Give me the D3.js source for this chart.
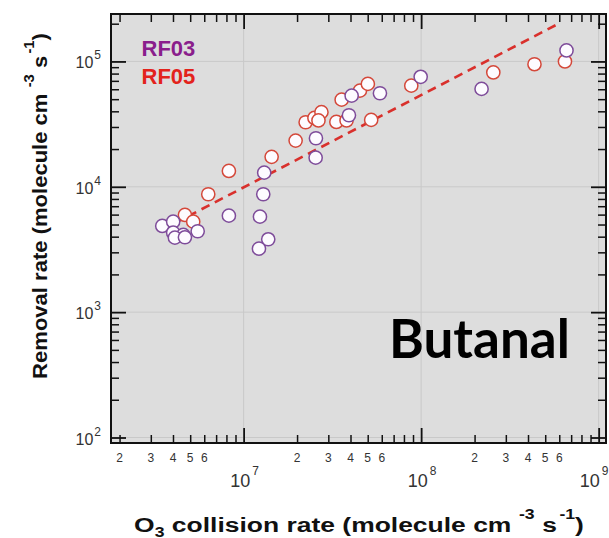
<!DOCTYPE html>
<html>
<head>
<meta charset="utf-8">
<script src="https://cdn.jsdelivr.net/npm/d3@7"></script>
<style>
  html, body { margin: 0; padding: 0; background: #ffffff; }
  svg { display: block; }
</style>
</head>
<body>
<svg id="chart" width="609" height="538"></svg>
<script>
// ---------------- data ----------------
const xDomain = [1.79e6, 1.10e9];
const yDomain = [90.4, 2.39e5];

const rf03X = [3.48e6, 4.01e6, 4.01e6, 4.57e6, 4.10e6, 4.67e6, 5.51e6, 8.26e6, 1.236e7, 1.29e7, 1.306e7, 1.376e7, 1.22e7,
               2.555e7, 2.545e7, 3.92e7, 4.06e7, 5.86e7, 9.94e7, 2.19e8, 6.59e8];
const rf03Y = [4870, 5270, 4306, 4128, 3930, 3957, 4420, 5886, 5776, 8720, 12970, 3814, 3209,
               24390, 17080, 37220, 53350, 55740, 75400, 60370, 122400];

const rf05X = [4.67e6, 5.20e6, 6.32e6, 8.26e6, 1.438e7, 1.963e7, 2.235e7, 2.505e7, 2.744e7, 2.64e7, 3.33e7, 3.80e7,
               3.566e7, 4.52e7, 5.01e7, 5.23e7, 8.80e7, 2.55e8, 4.35e8, 6.46e8];
const rf05Y = [5960, 5270, 8720, 13380, 17330, 23350, 32720, 35420, 39400, 33830, 32900, 33830,
               49560, 58480, 66170, 34160, 64110, 81700, 95000, 100000];

const fitX = [3.45e6, 5.90e8];
const fitY = [4520, 199000];

const seriesNames = ["RF03", "RF05"];
const minorLabelMults = [2, 3, 4, 5, 6];
const xMajorExps = [7, 8, 9];
const yMajorExps = [2, 3, 4, 5];
const title = "Butanal";

// ---------------- layout ----------------
const L = 111, R = 606, T = 14, B = 443;
const colRF03 = "#8a1e8c", colRF05 = "#e3231c";
const strokeRF03 = "#7e4c9a", strokeRF05 = "#d4483a";
const font = "Arial, 'Liberation Sans', sans-serif";

const svg = d3.select("#chart");
const x = d3.scaleLog().domain(xDomain).range([L, R]);
const y = d3.scaleLog().domain(yDomain).range([B, T]);

// background
svg.append("rect").attr("x", L).attr("y", T).attr("width", R - L).attr("height", B - T).attr("fill", "#dddddd");

// tick values
function logTicks(dom, majorOnly) {
  const out = [];
  const lo = Math.floor(Math.log10(dom[0])), hi = Math.ceil(Math.log10(dom[1]));
  for (let d = lo; d <= hi; d++) {
    for (let m = 1; m <= 9; m++) {
      const v = m * Math.pow(10, d);
      if (v >= dom[0] * 0.999 && v <= dom[1] * 1.001) {
        if (majorOnly ? m === 1 : m !== 1) out.push(v);
      }
    }
  }
  return out;
}
const xMaj = logTicks(xDomain, true), xMin = logTicks(xDomain, false);
const yMaj = logTicks(yDomain, true), yMin = logTicks(yDomain, false);

// grid
const grid = svg.append("g").attr("stroke", "#c9c9c9").attr("stroke-width", 1);
grid.selectAll("line.gx").data(xMaj).join("line")
  .attr("x1", d => x(d)).attr("x2", d => x(d)).attr("y1", T).attr("y2", B);
grid.selectAll("line.gy").data(yMaj).join("line")
  .attr("y1", d => y(d)).attr("y2", d => y(d)).attr("x1", L).attr("x2", R);

// fit line
svg.append("clipPath").attr("id", "clip").append("rect")
  .attr("x", L).attr("y", T).attr("width", R - L).attr("height", B - T);
svg.append("line")
  .attr("clip-path", "url(#clip)")
  .attr("x1", x(fitX[0])).attr("y1", y(fitY[0]))
  .attr("x2", x(fitX[1])).attr("y2", y(fitY[1]))
  .attr("stroke", "#d9302c").attr("stroke-width", 2.6).attr("stroke-dasharray", "9,6");

// points
const rf05 = rf05X.map((v, i) => ({x: v, y: rf05Y[i]}));
const rf03 = rf03X.map((v, i) => ({x: v, y: rf03Y[i]}));
svg.append("g").selectAll("circle").data(rf05).join("circle")
  .attr("cx", d => x(d.x)).attr("cy", d => y(d.y)).attr("r", 6.6)
  .attr("fill", "#fdfbff").attr("stroke", strokeRF05).attr("stroke-width", 1.5);
svg.append("g").selectAll("circle").data(rf03).join("circle")
  .attr("cx", d => x(d.x)).attr("cy", d => y(d.y)).attr("r", 6.6)
  .attr("fill", "#fdfbff").attr("stroke", strokeRF03).attr("stroke-width", 1.5);

// axes (tick lines only, pointing inward)
function styleAxis(g, w) {
  g.select(".domain").remove();
  g.selectAll("line").attr("stroke", "#111").attr("stroke-width", w);
  g.selectAll("text").remove();
}
const axes = [
  [() => d3.axisBottom(x), B, 0, xMaj, xMin],
  [() => d3.axisTop(x), T, 0, xMaj, xMin],
  [() => d3.axisLeft(y), 0, L, yMaj, yMin],
  [() => d3.axisRight(y), 0, R, yMaj, yMin]
];
axes.forEach(([mk, ty, tx, maj, min]) => {
  svg.append("g").attr("transform", `translate(${tx},${ty})`)
    .call(mk().tickValues(maj).tickSize(-15).tickFormat(""))
    .call(g => styleAxis(g, 1.8));
  svg.append("g").attr("transform", `translate(${tx},${ty})`)
    .call(mk().tickValues(min).tickSize(-8).tickFormat(""))
    .call(g => styleAxis(g, 1.5));
});

// frame
svg.append("rect").attr("x", L).attr("y", T).attr("width", R - L).attr("height", B - T)
  .attr("fill", "none").attr("stroke", "#111").attr("stroke-width", 2);

// x minor labels
const xMinorLabels = [];
[6, 7, 8].forEach(e => minorLabelMults.forEach(m => {
  const v = m * Math.pow(10, e);
  if (v >= xDomain[0] && v <= xDomain[1]) xMinorLabels.push({v, m});
}));
svg.append("g").selectAll("text").data(xMinorLabels).join("text")
  .attr("x", d => x(d.v)).attr("y", 461.5).attr("text-anchor", "middle")
  .attr("font-family", font).attr("font-size", 12).attr("fill", "#333")
  .text(d => d.m);

// x major labels
xMajorExps.forEach(e => {
  const px = Math.min(x(Math.pow(10, e)) + 1, 594);
  const t = svg.append("text").attr("x", px).attr("y", 486.5)
    .attr("text-anchor", "middle").attr("font-family", font).attr("fill", "#333");
  t.append("tspan").attr("font-size", 18).text("10");
  t.append("tspan").attr("font-size", 12).attr("dx", 2).attr("dy", -12).text(e);
});

// y major labels
yMajorExps.forEach(e => {
  const t = svg.append("text").attr("x", 101).attr("y", y(Math.pow(10, e)) + 7)
    .attr("text-anchor", "end").attr("font-family", font).attr("fill", "#333");
  t.append("tspan").attr("font-size", 16).text("10");
  t.append("tspan").attr("font-size", 12).attr("dx", 1).attr("dy", -9).text(e);
});

// x title
const xt = svg.append("text").attr("transform", "translate(359,531.5) scale(1.26,1)").attr("text-anchor", "middle")
  .attr("font-family", font).attr("font-weight", "bold").attr("font-size", 21).attr("fill", "#111");
xt.append("tspan").text("O");
xt.append("tspan").attr("font-size", 14).attr("dy", 5).text("3");
xt.append("tspan").attr("dy", -5).text(" collision rate (molecule cm");
xt.append("tspan").attr("font-size", 14).attr("dx", 6).attr("dy", -13).text("-3");
xt.append("tspan").attr("dx", 6).attr("dy", 13).text("s");
xt.append("tspan").attr("font-size", 14).attr("dx", 2).attr("dy", -13).text("-1");
xt.append("tspan").attr("dy", 13).text(")");

// y title
const yt = svg.append("text").attr("transform", "translate(47,206) rotate(-90) scale(1.05,1)").attr("text-anchor", "middle")
  .attr("font-family", font).attr("font-weight", "bold").attr("font-size", 21).attr("fill", "#111");
yt.append("tspan").text("Removal rate (molecule cm");
yt.append("tspan").attr("font-size", 14).attr("dx", 6).attr("dy", -13).text("-3");
yt.append("tspan").attr("dx", 6).attr("dy", 13).text("s");
yt.append("tspan").attr("font-size", 14).attr("dx", 2).attr("dy", -13).text("-1");
yt.append("tspan").attr("dy", 13).text(")");

// legend
svg.append("text").attr("x", 141.5).attr("y", 56).attr("font-family", font).attr("font-weight", "bold")
  .attr("font-size", 22).attr("fill", colRF03).text(seriesNames[0]);
svg.append("text").attr("x", 141.5).attr("y", 83.5).attr("font-family", font).attr("font-weight", "bold")
  .attr("font-size", 22).attr("fill", colRF05).text(seriesNames[1]);

// compound label
svg.append("text").attr("x", 389).attr("y", 358.3).attr("font-family", "Lato, 'Open Sans', sans-serif")
  .attr("font-weight", "bold").attr("font-size", 53).attr("fill", "#000").text(title);
</script>
</body>
</html>
